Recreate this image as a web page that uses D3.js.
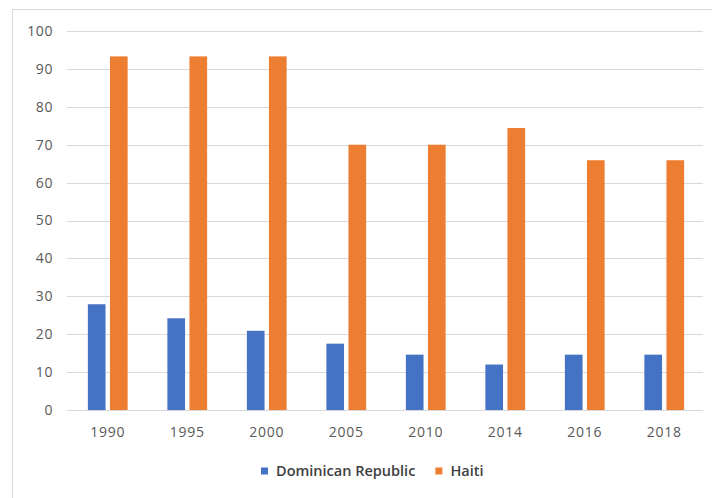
<!DOCTYPE html>
<html>
<head>
<meta charset="utf-8">
<script src="https://cdn.jsdelivr.net/npm/d3@7"></script>
<style>
  html, body { margin: 0; padding: 0; background: #fff; }
  svg { display: block; }
</style>
</head>
<body>
<svg id="chart" width="712" height="498"></svg>
<script>
// Years on the category axis
const years = ["1990", "1995", "2000", "2005", "2010", "2014", "2016", "2018"];
// Series values per year
const dominicanRepublic = [27.9, 24.2, 20.9, 17.5, 14.6, 12.0, 14.6, 14.6];
const haiti = [93.3, 93.3, 93.3, 70.0, 70.0, 74.4, 65.9, 65.9];
const seriesNames = ["Dominican Republic", "Haiti"];
const seriesColors = ["#4472C4", "#ED7D31"];
const yTicks = [0, 10, 20, 30, 40, 50, 60, 70, 80, 90, 100];

const svg = d3.select("#chart");
const W = 712, H = 498;
const margin = { left: 68, right: 8, top: 31, bottom: 88 };
const plotW = W - margin.left - margin.right;
const plotH = H - margin.top - margin.bottom;
const font = "'Open Sans', 'Liberation Sans', sans-serif";

// Chart area frame
svg.append("rect")
  .attr("x", 12.5).attr("y", 9.5)
  .attr("width", 712).attr("height", 498)
  .attr("fill", "#fff").attr("stroke", "#d9d9d9").attr("stroke-width", 1);

const g = svg.append("g").attr("transform", `translate(${margin.left},${margin.top})`);

const x0 = d3.scaleBand().domain(years).range([0, plotW]).paddingInner(0.5).paddingOuter(0.25);
const x1 = d3.scaleBand().domain(seriesNames).range([0, x0.bandwidth()]).paddingInner(0.2);
const y = d3.scaleLinear().domain([0, 100]).range([plotH, 0]);

// Gridlines
g.append("g")
  .selectAll("line")
  .data(yTicks)
  .join("line")
  .attr("x1", -1).attr("x2", plotW - 1)
  .attr("y1", d => Math.round(y(d)) + 0.5).attr("y2", d => Math.round(y(d)) + 0.5)
  .attr("stroke", "#d9d9d9").attr("stroke-width", 1);

// Y axis labels
const yAxis = d3.axisLeft(y).tickValues(yTicks).tickSize(0).tickPadding(15);
g.append("g").call(yAxis)
  .call(s => s.select(".domain").remove())
  .selectAll("text")
  .attr("font-family", font).attr("font-size", 14).attr("letter-spacing", "0.6px")
  .attr("fill", "#595959");

// X axis labels
const xAxis = d3.axisBottom(x0).tickSize(0).tickPadding(17);
g.append("g").attr("transform", `translate(0,${plotH})`).call(xAxis)
  .call(s => s.select(".domain").remove())
  .selectAll("text")
  .attr("font-family", font).attr("font-size", 14).attr("letter-spacing", "0.8px")
  .attr("fill", "#595959");

// Bars
const rows = years.map((yr, i) => ({ year: yr, values: [dominicanRepublic[i], haiti[i]] }));
g.append("g")
  .selectAll("g")
  .data(rows)
  .join("g")
  .attr("transform", d => `translate(${x0(d.year)},0)`)
  .selectAll("rect")
  .data(d => d.values.map((v, k) => ({ name: seriesNames[k], value: v, color: seriesColors[k] })))
  .join("rect")
  .attr("x", d => x1(d.name))
  .attr("width", x1.bandwidth())
  .attr("y", d => y(d.value))
  .attr("height", d => y(0) - y(d.value))
  .attr("fill", d => d.color);

// Legend
const legend = svg.append("g").attr("transform", "translate(261,471)");
let lx = 0;
seriesNames.forEach((name, i) => {
  const item = legend.append("g").attr("transform", `translate(${lx},0)`);
  item.append("rect").attr("x", 0).attr("y", -3.5).attr("width", 7).attr("height", 7).attr("fill", seriesColors[i]);
  const t = item.append("text")
    .attr("x", 15).attr("y", 0).attr("dy", "0.35em")
    .attr("font-family", font).attr("font-size", 14.5).attr("font-weight", 600)
    .attr("fill", "#404040")
    .text(name);
  lx += 15 + t.node().getComputedTextLength() + 20;
});
</script>
</body>
</html>
